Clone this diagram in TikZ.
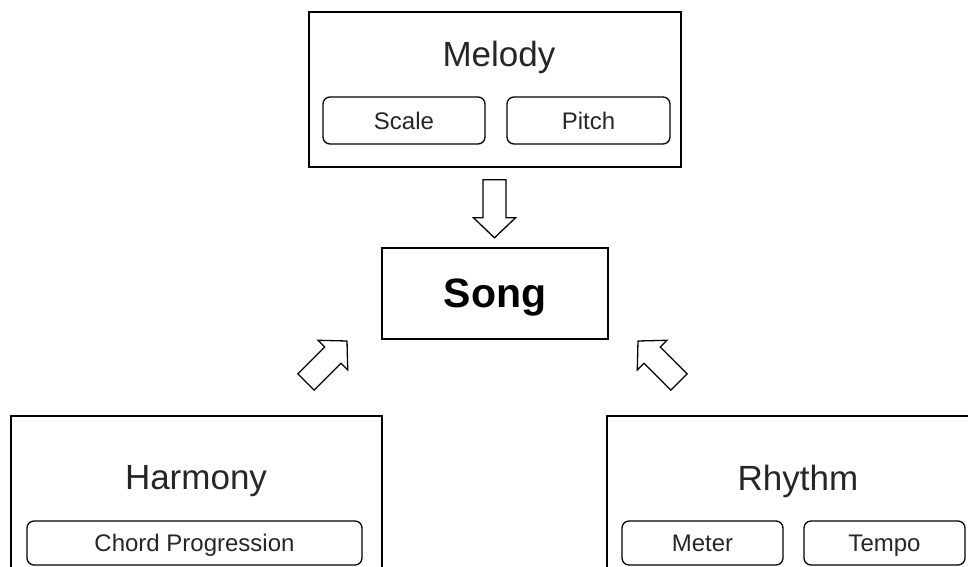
\documentclass[tikz,border=0pt]{standalone}
\usepackage{fontspec}
\setmainfont{Liberation Sans}
\usetikzlibrary{calc}

\tikzset{
  panel/.style={draw=black, line width=1.6pt, rectangle, inner sep=0pt},
  chip/.style={draw=black, line width=1.3pt, rectangle, rounded corners=7pt,
    inner sep=0pt, text=black!85, font=\fontsize{24}{28}\selectfont, text depth=0pt},
  heading/.style={font=\fontsize{35}{42}\selectfont, text=black!85, anchor=base, inner sep=0pt},
  core/.style={panel, font=\bfseries\fontsize{41}{48}\selectfont, text depth=0pt},
  blockarrow/.pic={
    \draw[line width=1.3pt, line join=miter, fill=white]
      (0,-11.5) -- (38,-11.5) -- (38,-21) -- (58,0) -- (38,21) -- (38,11.5) -- (0,11.5) -- cycle;
  }
}

\begin{document}
\begin{tikzpicture}[x=1pt, y=-1pt]
  \useasboundingbox (0,0) rectangle (968,566);
  \clip (0,0) rectangle (968,566);

  % Melody group
  \node[panel, minimum width=372, minimum height=155] (melody) at (495,89.5) {};
  \node[heading] (melodyT) at (499,66.7) {Melody};
  \node[chip, minimum width=162, minimum height=47] (scale) at (404,120.5) {Scale};
  \node[chip, minimum width=163, minimum height=47] (pitch) at (588.5,120.5) {Pitch};

  % central box
  \node[core, minimum width=226, minimum height=91] (song) at (495,293.5) {Song};

  % Harmony group
  \node[panel, minimum width=371, minimum height=172] (harmony) at (196.5,502) {};
  \node[heading] (harmonyT) at (196,489) {Harmony};
  \node[chip, minimum width=335, minimum height=44] (chord) at (194.5,543) {Chord Progression};

  % Rhythm group
  \node[panel, minimum width=380, minimum height=172] (rhythm) at (797,502) {};
  \node[heading] (rhythmT) at (798,490) {Rhythm};
  \node[chip, minimum width=161, minimum height=44] (meter) at (702.5,543) {Meter};
  \node[chip, minimum width=161, minimum height=44] (tempo) at (884.5,543) {Tempo};

  % block arrows feeding the song
  \coordinate (fromMelody) at ($(melody.south)+(-0.5,12)$);
  \coordinate (fromHarmony) at (306,382);
  \coordinate (fromRhythm) at (679,382);
  \pic[rotate=-90] at (fromMelody) {blockarrow};
  \pic[rotate=45] at (fromHarmony) {blockarrow};
  \pic[rotate=135] at (fromRhythm) {blockarrow};
\end{tikzpicture}
\end{document}
